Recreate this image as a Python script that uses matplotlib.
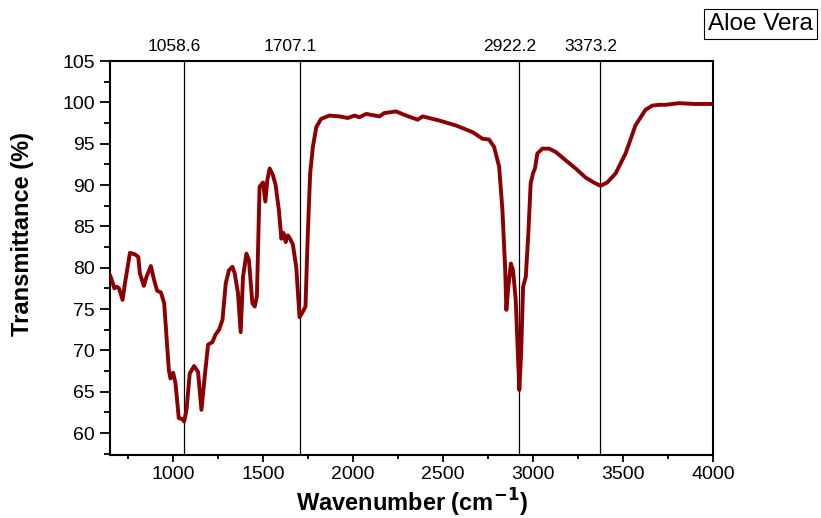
import numpy as np
import matplotlib.pyplot as plt
from matplotlib.ticker import MultipleLocator

plt.rcParams['font.family'] = ['Liberation Sans', 'DejaVu Sans']

# FTIR spectrum of aloe vera
wavenumber = [
    650, 663, 674, 687, 700, 720, 733, 761, 789, 807, 816, 838, 853, 877,
    895, 912, 933, 951, 977, 986, 1001, 1014, 1032, 1050, 1062, 1075, 1093,
    1117, 1139, 1158, 1177, 1195, 1219, 1236, 1256, 1275, 1293, 1311, 1330,
    1343, 1361, 1376, 1389, 1408, 1422, 1441, 1454, 1466, 1481, 1500, 1513,
    1524, 1537, 1555, 1570, 1588, 1602, 1614, 1626, 1638, 1648, 1666, 1685,
    1703, 1722, 1736, 1749, 1762, 1777, 1796, 1823, 1869, 1925, 1971, 2008,
    2036, 2073, 2147, 2174, 2239, 2295, 2359, 2387, 2479, 2572, 2664, 2719,
    2756, 2784, 2812, 2830, 2845, 2852, 2863, 2877, 2889, 2904, 2919, 2924,
    2934, 2945, 2960, 2974, 2987, 3000, 3011, 3024, 3052, 3089, 3126, 3181,
    3237, 3292, 3338, 3375, 3412, 3459, 3514, 3569, 3625, 3662, 3700, 3736,
    3810, 3902, 4000,
]
transmittance = [
    79.1, 78.3, 77.5, 77.7, 77.5, 76.1, 78.1, 81.8, 81.6, 81.3, 79.3, 77.8,
    78.9, 80.2, 78.5, 77.2, 77.0, 75.7, 67.6, 66.6, 67.3, 66.0, 61.8, 61.7,
    61.4, 62.8, 67.2, 68.1, 67.4, 62.8, 67.0, 70.7, 71.0, 71.9, 72.5, 73.7,
    78.1, 79.7, 80.1, 79.3, 76.9, 72.2, 78.9, 81.7, 80.9, 75.7, 75.3, 76.5,
    89.8, 90.3, 88.0, 90.6, 92.0, 91.2, 90.0, 87.0, 83.5, 84.2, 83.1, 83.9,
    83.6, 82.8, 80.0, 74.0, 74.7, 75.3, 84.1, 91.4, 94.6, 97.0, 98.0, 98.4,
    98.3, 98.1, 98.4, 98.2, 98.6, 98.3, 98.7, 98.9, 98.4, 97.9, 98.3, 97.8,
    97.2, 96.4, 95.6, 95.5, 94.6, 92.2, 87.0, 80.1, 74.9, 77.7, 80.5, 79.7,
    76.1, 68.0, 65.2, 69.6, 77.7, 78.9, 84.1, 90.2, 91.4, 92.0, 93.8, 94.4,
    94.4, 94.0, 93.0, 92.0, 90.9, 90.3, 89.9, 90.3, 91.4, 93.8, 97.2, 99.1,
    99.6, 99.7, 99.7, 99.9, 99.8, 99.8,
]

peaks = [1058.6, 1707.1, 2922.2, 3373.2]
peak_labels = ['1058.6', '1707.1', '2922.2', '3373.2']

W, H = 821, 518
fig = plt.figure(figsize=(W / 100, H / 100), dpi=100)
ax = fig.add_axes([110 / W, 1 - 454.5 / H, 603 / W, 393.5 / H])

ax.plot(wavenumber, transmittance, color='#8b0000', lw=2.8,
        solid_joinstyle='round', solid_capstyle='round', zorder=3)

for p, lab in zip(peaks, peak_labels):
    ax.axvline(p, color='black', lw=0.9, zorder=2)
    # labels sit a little left of their lines, as in the original
    ax.annotate(lab, xy=(p, 105), xytext=(-7, 5), textcoords='offset points',
                ha='center', va='bottom', fontsize=12.5, annotation_clip=False)

ax.set_xlim(650, 4000)
ax.set_ylim(57.4, 105)
ax.xaxis.set_major_locator(MultipleLocator(500))
ax.xaxis.set_minor_locator(MultipleLocator(250))
ax.yaxis.set_major_locator(MultipleLocator(5))
ax.yaxis.set_minor_locator(MultipleLocator(2.5))
ax.tick_params(which='both', direction='out', width=1.3, labelsize=14,
               top=False, right=False)
ax.tick_params(axis='x', which='major', length=5, pad=3)
ax.tick_params(axis='x', which='minor', length=3)
ax.tick_params(axis='y', which='major', length=7, pad=4)
ax.tick_params(axis='y', which='minor', length=4)
for s in ax.spines.values():
    s.set_linewidth(1.5)

fig.text(412 / W, 1 - 512 / H, 'Wavenumber (cm$^{\\mathbf{-1}}$)',
         ha='center', va='baseline', fontsize=17, fontweight='bold')
fig.text(22 / W, 1 - 234 / H, 'Transmittance (%)', rotation=90,
         ha='center', va='center', fontsize=17, fontweight='bold')

fig.text(708 / W, 1 - 24 / H, 'Aloe Vera', ha='left', va='center',
         fontsize=17.5,
         bbox=dict(boxstyle='square,pad=0.15', fc='white', ec='black', lw=0.8))

fig.savefig('out.png', dpi=100)
